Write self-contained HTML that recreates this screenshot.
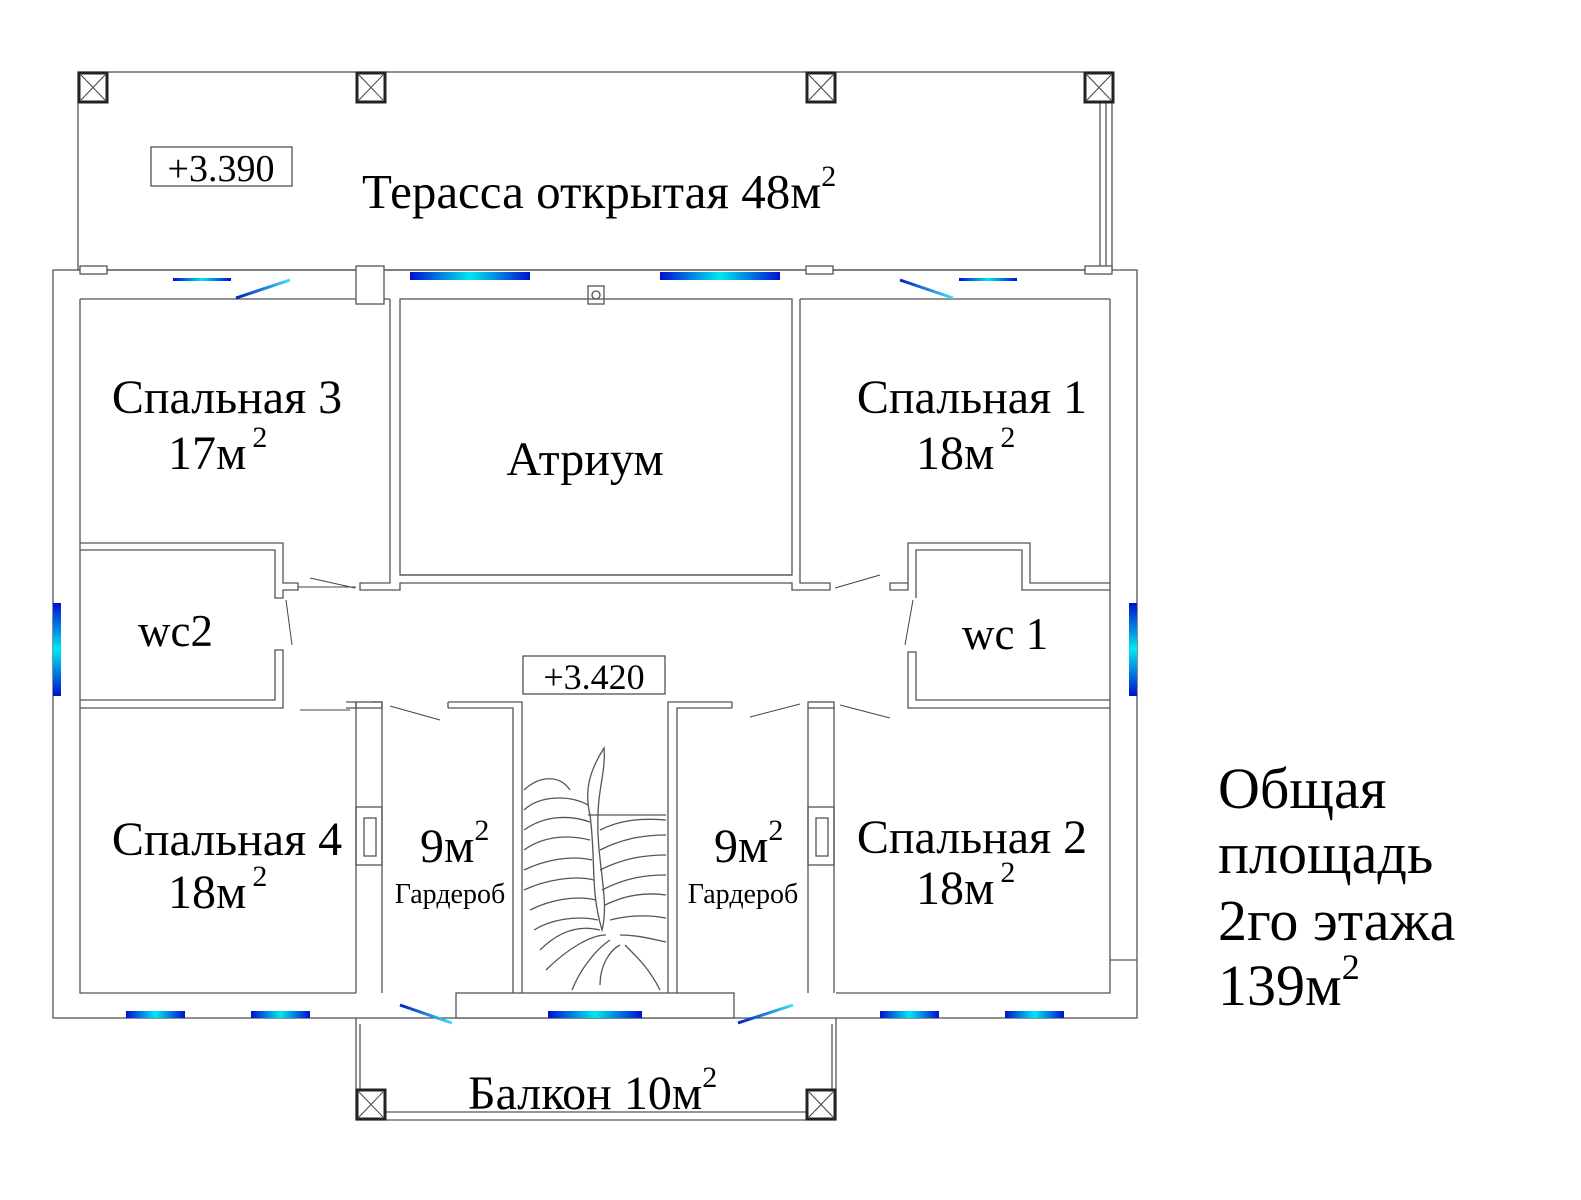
<!DOCTYPE html>
<html><head><meta charset="utf-8"><style>
html,body{margin:0;padding:0;background:#fff}
svg{display:block}
text{font-family:"Liberation Serif",serif;fill:#000}
</style></head><body>
<svg width="1581" height="1200" viewBox="0 0 1581 1200" xmlns="http://www.w3.org/2000/svg">
<defs>
<linearGradient id="gh" x1="0" x2="1" y1="0" y2="0"><stop offset="0" stop-color="#0010d0"/><stop offset="0.5" stop-color="#00e8f0"/><stop offset="1" stop-color="#0010d0"/></linearGradient>
<linearGradient id="gv" x1="0" x2="0" y1="0" y2="1"><stop offset="0" stop-color="#0010d0"/><stop offset="0.5" stop-color="#00e8f0"/><stop offset="1" stop-color="#0010d0"/></linearGradient>
<linearGradient id="gd" x1="0" x2="1"><stop offset="0" stop-color="#0020c0"/><stop offset="1" stop-color="#40e0f0"/></linearGradient>
</defs>
<g fill="none" stroke="#555" stroke-width="1.3">
<rect x="78" y="72" width="1034" height="198"/>
<line x1="1100" y1="103" x2="1100" y2="270"/><line x1="1106" y1="103" x2="1106" y2="270"/>
<rect x="53" y="270" width="1084" height="748"/>
<polyline points="80,299 80,993 356,993"/>
<polyline points="1110,299 1110,993 836,993"/>
<line x1="80" y1="299" x2="390" y2="299"/>
<line x1="800" y1="299" x2="1110" y2="299"/>
<rect x="80" y="266" width="27" height="8" fill="#fff"/>
<rect x="356" y="266" width="28" height="38" fill="#fff"/>
<rect x="806" y="266" width="27" height="8" fill="#fff"/>
<rect x="1085" y="266" width="27" height="8" fill="#fff"/>
<rect x="588" y="286" width="16" height="18" fill="#fff"/><circle cx="596" cy="295" r="4"/>
<rect x="400" y="299" width="392" height="276"/>
<polyline points="390,299 390,583 360,583 360,590 400,590 400,583 792,583 792,590 830,590 830,583 800,583 800,299"/>
<line x1="400" y1="575" x2="792" y2="575"/>
<polyline points="80,543 283,543 283,583 298,583 298,590 283,590 283,598 275,598 275,550 80,550"/>
<polyline points="80,700 275,700 275,650 283,650 283,708 80,708"/>
<polyline points="1110,583 1030,583 1030,543 908,543 908,590 890,590 890,583 908,583"/>
<polyline points="916,598 916,550 1022,550 1022,590 1110,590"/>
<polyline points="1110,700 916,700 916,652 908,652 908,708 1110,708"/>
<polyline points="346,708 356,708 356,993"/>
<polyline points="346,702 356,702 356,708"/>
<polyline points="372,702 382,702 382,993"/>
<rect x="356" y="702" width="26" height="6"/>
<rect x="356" y="807" width="26" height="58"/><rect x="364" y="818" width="12" height="38"/>
<polyline points="448,702 522,702 522,993"/><polyline points="448,708 513,708 513,993"/><line x1="448" y1="702" x2="448" y2="708"/>
<polyline points="732,702 668,702 668,993"/><polyline points="732,708 677,708 677,993"/><line x1="732" y1="702" x2="732" y2="708"/>
<rect x="808" y="702" width="26" height="6"/>
<polyline points="808,708 808,993"/><polyline points="834,708 834,993"/>
<rect x="808" y="807" width="26" height="58"/><rect x="816" y="818" width="12" height="38"/>
<rect x="456" y="993" width="278" height="25" fill="#fff"/>
<polyline points="356,1018 356,1120 836,1120 836,1018"/>
<line x1="386" y1="1112" x2="806" y2="1112"/>
<line x1="360" y1="1024" x2="360" y2="1090"/><line x1="832" y1="1024" x2="832" y2="1090"/>
<line x1="1110" y1="960" x2="1137" y2="960"/>
<line x1="588" y1="815" x2="666" y2="815"/>
<path d="M604,748 C590,770 584,790 590,815 C596,860 590,890 602,930 C610,900 596,860 598,815 C598,790 606,770 604,748Z"/>
<path d="M524,790 C540,775 560,775 570,790 M524,810 C540,795 570,795 588,805 M524,830 C545,815 570,815 590,822 M524,850 C545,835 570,835 590,840 M524,870 C545,860 570,855 592,860 M524,890 C545,880 575,875 594,880 M530,910 C550,900 575,895 596,900 M534,930 C550,920 575,915 598,920 M540,950 C560,930 580,925 600,930 M546,970 C566,950 590,935 606,935 M572,990 C580,970 595,950 610,940 M600,985 C600,965 610,950 620,945"/>
<path d="M600,830 C620,820 640,818 666,820 M600,850 C620,840 640,835 666,835 M600,870 C620,860 640,855 666,855 M602,890 C625,878 645,875 666,875 M605,905 C625,895 645,892 666,895 M610,920 C630,915 650,915 666,918 M620,935 C640,935 655,940 666,942 M625,945 C640,960 650,970 660,990"/>
</g>
<g fill="#fff" stroke="#222" stroke-width="3">
<rect x="79" y="73" width="28" height="29"/><rect x="357" y="73" width="28" height="29"/><rect x="807" y="73" width="28" height="29"/><rect x="1085" y="73" width="28" height="29"/>
<rect x="357" y="1090" width="28" height="29"/><rect x="807" y="1090" width="28" height="29"/>
</g>
<g stroke="#444" stroke-width="1">
<path d="M81,75 L105,100 M105,75 L81,100 M359,75 L383,100 M383,75 L359,100 M809,75 L833,100 M833,75 L809,100 M1087,75 L1111,100 M1111,75 L1087,100 M359,1092 L383,1117 M383,1092 L359,1117 M809,1092 L833,1117 M833,1092 L809,1117"/>
<path d="M298,587 L356,587 M300,710 L350,710 M390,706 L440,720 M310,578 L355,588 M835,588 L880,575 M750,717 L800,704 M840,705 L890,718 M286,600 L292,645 M905,645 L913,600"/>
</g>
<g>
<rect x="410" y="272" width="120" height="8" fill="url(#gh)"/>
<rect x="660" y="272" width="120" height="8" fill="url(#gh)"/>
<rect x="173" y="278" width="58" height="3" fill="url(#gh)"/>
<rect x="959" y="278" width="58" height="3" fill="url(#gh)"/>
<rect x="126" y="1011" width="59" height="7" fill="url(#gh)"/>
<rect x="251" y="1011" width="59" height="7" fill="url(#gh)"/>
<rect x="548" y="1011" width="94" height="7" fill="url(#gh)"/>
<rect x="880" y="1011" width="59" height="7" fill="url(#gh)"/>
<rect x="1005" y="1011" width="59" height="7" fill="url(#gh)"/>
<rect x="53" y="603" width="8" height="93" fill="url(#gv)"/>
<rect x="1129" y="603" width="8" height="93" fill="url(#gv)"/>
<g stroke="url(#gd)" stroke-width="3">
<line x1="236" y1="298" x2="290" y2="280"/><line x1="900" y1="280" x2="953" y2="298"/>
<line x1="400" y1="1005" x2="452" y2="1023"/><line x1="738" y1="1023" x2="793" y2="1005"/>
</g>
</g>
<rect x="151" y="147" width="141" height="39" fill="#fff" stroke="#444" stroke-width="1.2"/>
<text x="221" y="181" font-size="38" text-anchor="middle">+3.390</text>
<rect x="523" y="656" width="142" height="38" fill="#fff" stroke="#444" stroke-width="1.2"/>
<text x="594" y="689" font-size="36" text-anchor="middle">+3.420</text>
<text x="362" y="208" font-size="49">Терасса открытая 48м<tspan font-size="30" dy="-22">2</tspan></text>
<text x="227" y="413" font-size="48" text-anchor="middle">Спальная 3</text>
<text x="168" y="469" font-size="48">17м<tspan font-size="30" dx="6" dy="-22">2</tspan></text>
<text x="585" y="475" font-size="48" text-anchor="middle">Атриум</text>
<text x="972" y="413" font-size="48" text-anchor="middle">Спальная 1</text>
<text x="916" y="469" font-size="48">18м<tspan font-size="30" dx="6" dy="-22">2</tspan></text>
<text x="138" y="646" font-size="45">wc2</text>
<text x="962" y="649" font-size="45">wc 1</text>
<text x="227" y="855" font-size="48" text-anchor="middle">Спальная 4</text>
<text x="168" y="908" font-size="48">18м<tspan font-size="30" dx="6" dy="-22">2</tspan></text>
<text x="420" y="862" font-size="48">9м<tspan font-size="30" dy="-22">2</tspan></text>
<text x="450" y="903" font-size="28" text-anchor="middle">Гардероб</text>
<text x="714" y="862" font-size="48">9м<tspan font-size="30" dy="-22">2</tspan></text>
<text x="743" y="903" font-size="28" text-anchor="middle">Гардероб</text>
<text x="972" y="853" font-size="48" text-anchor="middle">Спальная 2</text>
<text x="916" y="904" font-size="48">18м<tspan font-size="30" dx="6" dy="-22">2</tspan></text>
<text x="468" y="1109" font-size="48">Балкон 10м<tspan font-size="30" dy="-22">2</tspan></text>
<g font-size="58">
<text x="1218" y="808">Общая</text>
<text x="1218" y="873">площадь</text>
<text x="1218" y="940">2го этажа</text>
<text x="1218" y="1005">139м<tspan font-size="36" dy="-26">2</tspan></text>
</g>
</svg>
</body></html>
